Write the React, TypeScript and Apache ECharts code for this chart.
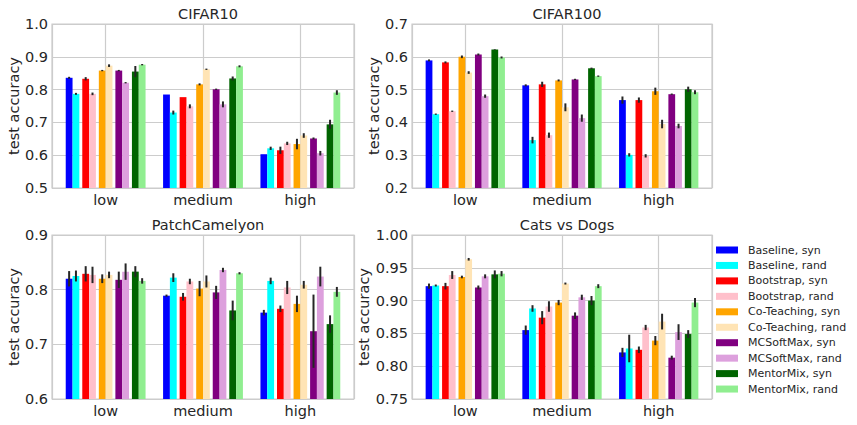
import React, { useEffect, useRef } from 'react';
import * as echarts from 'echarts';

const categories = ['low', 'medium', 'high'];
const methods = [
  'Baseline, syn', 'Baseline, rand',
  'Bootstrap, syn', 'Bootstrap, rand',
  'Co-Teaching, syn', 'Co-Teaching, rand',
  'MCSoftMax, syn', 'MCSoftMax, rand',
  'MentorMix, syn', 'MentorMix, rand',
];
const colors = [
  '#0000ff', '#00ffff', '#ff0000', '#ffc0cb', '#ffa500',
  '#ffe4b5', '#800080', '#dda0dd', '#006400', '#90ee90',
];
const titles = ['CIFAR10', 'CIFAR100', 'PatchCamelyon', 'Cats vs Dogs'];

// rows: methods; columns: low, medium, high
const cifar10Mean = [
  [0.836, 0.785, 0.603], [0.787, 0.730, 0.621],
  [0.833, 0.777, 0.615], [0.787, 0.749, 0.636],
  [0.858, 0.816, 0.634], [0.873, 0.862, 0.660],
  [0.858, 0.801, 0.651], [0.821, 0.755, 0.606],
  [0.855, 0.834, 0.694], [0.876, 0.871, 0.791],
];
const cifar10Err = [
  [0.003, 0.0, 0.0], [0.003, 0.006, 0.005],
  [0.005, 0.0, 0.011], [0.004, 0.006, 0.005],
  [0.002, 0.003, 0.016], [0.004, 0.002, 0.007],
  [0.002, 0.002, 0.003], [0.002, 0.009, 0.007],
  [0.017, 0.006, 0.014], [0.002, 0.003, 0.007],
];
const cifar100Mean = [
  [0.589, 0.513, 0.468], [0.425, 0.346, 0.301],
  [0.583, 0.516, 0.468], [0.434, 0.361, 0.298],
  [0.600, 0.528, 0.495], [0.552, 0.446, 0.395],
  [0.607, 0.531, 0.486], [0.480, 0.413, 0.389],
  [0.622, 0.565, 0.501], [0.598, 0.541, 0.492],
];
const cifar100Err = [
  [0.003, 0.003, 0.011], [0.002, 0.010, 0.005],
  [0.003, 0.008, 0.008], [0.002, 0.008, 0.005],
  [0.004, 0.003, 0.011], [0.004, 0.012, 0.013],
  [0.003, 0.002, 0.002], [0.005, 0.011, 0.007],
  [0.001, 0.002, 0.008], [0.003, 0.002, 0.006],
];
const pcamMean = [
  [0.820, 0.789, 0.758], [0.825, 0.822, 0.816],
  [0.829, 0.787, 0.765], [0.827, 0.815, 0.804],
  [0.820, 0.802, 0.774], [0.827, 0.815, 0.809],
  [0.818, 0.795, 0.724], [0.833, 0.836, 0.824],
  [0.833, 0.762, 0.737], [0.816, 0.830, 0.796],
];
const pcamErr = [
  [0.014, 0.002, 0.005], [0.010, 0.008, 0.006],
  [0.014, 0.007, 0.006], [0.015, 0.005, 0.012],
  [0.008, 0.014, 0.015], [0.006, 0.011, 0.007],
  [0.015, 0.012, 0.067], [0.015, 0.004, 0.018],
  [0.010, 0.018, 0.016], [0.005, 0.002, 0.009],
];
const catsDogsMean = [
  [0.922, 0.855, 0.821], [0.923, 0.888, 0.827],
  [0.922, 0.874, 0.825], [0.939, 0.891, 0.859],
  [0.936, 0.897, 0.839], [0.963, 0.926, 0.868],
  [0.920, 0.877, 0.813], [0.937, 0.905, 0.852],
  [0.940, 0.900, 0.849], [0.941, 0.922, 0.897],
];
const catsDogsErr = [
  [0.004, 0.007, 0.007], [0.0015, 0.005, 0.021],
  [0.005, 0.010, 0.005], [0.006, 0.008, 0.004],
  [0.002, 0.004, 0.007], [0.002, 0.0015, 0.012],
  [0.003, 0.005, 0.003], [0.003, 0.004, 0.012],
  [0.006, 0.007, 0.006], [0.004, 0.003, 0.007],
];

const yMins = [0.5, 0.2, 0.6, 0.75];
const yMaxs = [1.0, 0.7, 0.9, 1.0];
const ySteps = [0.1, 0.1, 0.1, 0.05];
const yDecimals = [1, 1, 1, 2];

const allMeans = [cifar10Mean, cifar100Mean, pcamMean, catsDogsMean];
const allErrs = [cifar10Err, cifar100Err, pcamErr, catsDogsErr];

const pairOffsets = [-0.34, -0.17, 0, 0.17, 0.34];
const barWidth = 0.07;

const FONT = 'DejaVu Sans';
const TEXT = '#262626';
const GRIDC = '#cccccc';

const grids = [
  { left: 52, top: 24, width: 302, height: 164 },
  { left: 412, top: 24, width: 300, height: 164 },
  { left: 52, top: 235, width: 302, height: 164 },
  { left: 412, top: 235, width: 300, height: 164 },
];

export default function App() {
  const ref = useRef<HTMLDivElement>(null);
  useEffect(() => {
    if (!ref.current) return;
    const chart = echarts.init(ref.current, null, { renderer: 'svg' });

    const series: any[] = [];
    for (let p = 0; p < 4; p++) {
      for (let m = 0; m < methods.length; m++) {
        const offset = pairOffsets[Math.floor(m / 2)] + (m % 2 === 0 ? -barWidth / 2 : barWidth / 2);
        const color = colors[m];
        const base = yMins[p];
        series.push({
          type: 'custom',
          name: methods[m],
          xAxisIndex: p,
          yAxisIndex: p,
          silent: true,
          itemStyle: { color },
          encode: { x: 0, y: 1 },
          data: categories.map((_, c) => [c, allMeans[p][m][c], allErrs[p][m][c]]),
          renderItem: (params: any, api: any) => {
            const c = api.value(0);
            const v = api.value(1);
            const e = api.value(2);
            const xc = c + offset;
            const p0 = api.coord([xc - barWidth / 2, v]);
            const p1 = api.coord([xc + barWidth / 2, base]);
            const pt = api.coord([xc, v + e]);
            const pb = api.coord([xc, v - e]);
            const children: any[] = [
              {
                type: 'rect',
                shape: { x: p0[0], y: p0[1], width: p1[0] - p0[0], height: p1[1] - p0[1] },
                style: { fill: color },
              },
            ];
            if (e > 0) {
              children.push({
                type: 'line',
                shape: { x1: pt[0], y1: pt[1], x2: pb[0], y2: pb[1] },
                style: { stroke: TEXT, lineWidth: 2 },
              });
            }
            return { type: 'group', children };
          },
        });
      }
    }

    const option: any = {
      animation: false,
      backgroundColor: '#ffffff',
      textStyle: { fontFamily: FONT },
      title: titles.map((t, i) => ({
        text: t,
        left: grids[i].left + grids[i].width / 2,
        top: grids[i].top - 23,
        textAlign: 'center',
        textStyle: { fontFamily: FONT, fontSize: 14.5, fontWeight: 'normal', color: TEXT },
      })),
      legend: {
        orient: 'vertical',
        left: 711,
        top: 239,
        itemWidth: 22,
        itemHeight: 7,
        itemGap: 3.45,
        data: methods.map((n) => ({ name: n, icon: 'rect' })),
        textStyle: {
          fontFamily: FONT,
          fontSize: 11,
          lineHeight: 12,
          color: TEXT,
          padding: [0, 0, 0, 5],
        },
      },
      grid: grids.map((g) => ({
        ...g,
        show: true,
        borderColor: GRIDC,
        borderWidth: 1.2,
        backgroundColor: '#ffffff',
      })),
      xAxis: grids.map((_, i) => ({
        type: 'value',
        gridIndex: i,
        min: -0.551,
        max: 2.551,
        splitNumber: 3,
        minInterval: 1,
        maxInterval: 1,
        axisLine: { show: false },
        axisTick: { show: false },
        splitLine: { show: true, lineStyle: { color: GRIDC, width: 1.2 } },
        axisLabel: {
          fontFamily: FONT,
          fontSize: 14.5,
          color: TEXT,
          margin: 4,
          formatter: (v: number) => {
            const r = Math.round(v);
            return Math.abs(v - r) < 1e-6 && r >= 0 && r < categories.length ? categories[r] : '';
          },
        },
      })),
      yAxis: grids.map((_, i) => ({
        type: 'value',
        gridIndex: i,
        min: yMins[i],
        max: yMaxs[i],
        interval: ySteps[i],
        name: 'test accuracy',
        nameLocation: 'middle',
        nameGap: 30,
        nameTextStyle: { fontFamily: FONT, fontSize: 14.5, color: TEXT },
        axisLine: { show: false },
        axisTick: { show: false },
        splitLine: { show: true, lineStyle: { color: GRIDC, width: 1.2 } },
        axisLabel: {
          fontFamily: FONT,
          fontSize: 14.5,
          color: TEXT,
          margin: 4,
          formatter: (v: number) => v.toFixed(yDecimals[i]),
        },
      })),
      series,
    };
    chart.setOption(option);
    return () => chart.dispose();
  }, []);

  return (
    <div
      ref={ref}
      style={{ position: 'absolute', left: 0, top: 0, width: 857, height: 425, background: '#ffffff' }}
    />
  );
}
